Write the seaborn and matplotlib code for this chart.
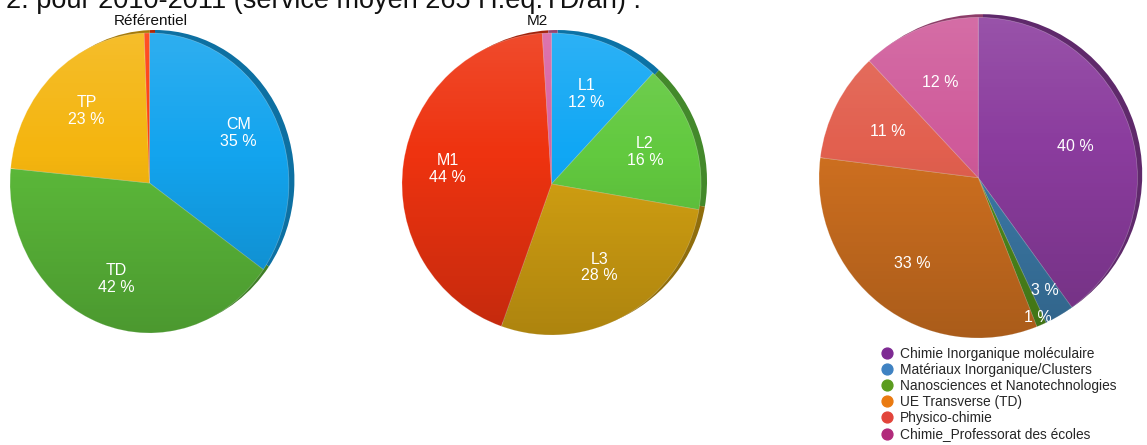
import matplotlib
matplotlib.use("Agg")
import numpy as np
import matplotlib.pyplot as plt
from matplotlib.lines import Line2D
from matplotlib.patches import Ellipse
import seaborn as sns

sns.set_theme(style="white")
plt.rcParams["font.family"] = ["Liberation Sans", "DejaVu Sans"]

# --- data -------------------------------------------------------------
title = "2. pour 2010-2011 (service moyen 265 H.eq.TD/an) :"

type_labels = ["CM", "TD", "TP", "Référentiel"]
type_values = [35, 42, 23, 0.6]
type_colors = ["#13A4EE", "#5CBA3A", "#F4B50F", "#FF3A0A"]

level_labels = ["L1", "L2", "L3", "M1", "M2"]
level_values = [12, 16, 28, 44, 1]
level_colors = ["#10A7F4", "#62C93F", "#D3A112", "#EE3310", "#D862A3"]

ue_labels = ["Chimie Inorganique moléculaire", "Matériaux Inorganique/Clusters",
             "Nanosciences et Nanotechnologies", "UE Transverse (TD)",
             "Physico-chimie", "Chimie_Professorat des écoles"]
ue_values = [40, 3, 1, 33, 11, 12]
ue_colors = ["#8B3C9E", "#3C7AA8", "#4F8C1C", "#CF7020", "#E2604F", "#CF5A9A"]
ue_legend_colors = ["#7E2A93", "#3F82C2", "#5B9C1E", "#EA7A10", "#E2443A", "#B12A7B"]

# --- figure -----------------------------------------------------------
W, H = 1147, 445
fig = plt.figure(figsize=(W / 100, H / 100), dpi=100)


def darker(c, f=0.68):
    r, g, b = matplotlib.colors.to_rgb(c)
    return (r * f, g * f, b * f)


def pie_axes(x0, x1, y0, y1):
    """Axes placed on the pixel box x0..x1, y0..y1 (top-left origin)."""
    return fig.add_axes([x0 / W, 1 - y1 / H, (x1 - x0) / W, (y1 - y0) / H])


def draw_pie(ax, values, colors, texts, dists, rim=(0.04, 0.02), label_size=11.5):
    # darker rim behind the disc, shifted up and to the right
    ax.pie(values, colors=[darker(c) for c in colors], center=rim, radius=1,
           startangle=90, counterclock=False, wedgeprops=dict(linewidth=0))
    wedges, _ = ax.pie(values, colors=colors, center=(0, 0), radius=1,
                       startangle=90, counterclock=False,
                       wedgeprops=dict(linewidth=0.5, edgecolor=(1, 1, 1, 0.3)))
    # soft shading: lighter at the top, darker at the bottom
    grad = np.linspace(0, 1, 256)[:, None]
    shade = np.zeros((256, 1, 4))
    shade[..., :3] = np.where(grad[..., None] < 0.4, 1.0, 0.0)
    shade[..., 3] = np.abs(grad - 0.4) * 0.3
    im = ax.imshow(shade, extent=(-1, 1, -1, 1), origin="upper", aspect="auto",
                   zorder=3, interpolation="bilinear")
    im.set_clip_path(Ellipse((0, 0), 2, 2, transform=ax.transData))
    for w, t, d in zip(wedges, texts, dists):
        if t is None:
            continue
        ang = np.deg2rad((w.theta1 + w.theta2) / 2)
        ax.text(d * np.cos(ang), d * np.sin(ang), t, ha="center", va="center",
                color="white", fontsize=label_size, linespacing=1.15, zorder=4)
    ax.set_xlim(-1, 1 + 2 * rim[0])
    ax.set_ylim(-1, 1 + 2 * rim[1])
    ax.set_aspect("auto")
    ax.axis("off")
    return wedges


def pct(v):
    return f"{round(v)} %"


# pie 1 : type d'enseignement
ax1 = pie_axes(10, 300, 27, 333)
draw_pie(ax1, type_values, type_colors,
         [f"{l}\n{pct(v)}" for l, v in zip(type_labels[:3], type_values[:3])] + [None],
         [0.72, 0.68, 0.66, 0])

# pie 2 : niveau
ax2 = pie_axes(402, 713, 27, 335)
draw_pie(ax2, level_values, level_colors,
         [f"{l}\n{pct(v)}" for l, v in zip(level_labels[:4], level_values[:4])] + [None],
         [0.64, 0.66, 0.64, 0.7, 0])

# pie 3 : UE
ax3 = pie_axes(819, 1147, 11, 338)
draw_pie(ax3, ue_values, ue_colors, [pct(v) for v in ue_values],
         [0.64, 0.82, 0.95, 0.68, 0.64, 0.64], rim=(0.03, 0.02))

# small slices named above their pie
fig.text(151 / W, 1 - 25 / H, type_labels[3], ha="center", va="baseline",
         fontsize=11, color="#111111")
fig.text(537 / W, 1 - 25 / H, level_labels[4], ha="center", va="baseline",
         fontsize=11, color="#111111")

# title, clipped by the top of the figure
fig.text(6 / W, 1 - 8 / H, title, ha="left", va="baseline",
         fontsize=19.5, color="#111111")

# legend
handles = [Line2D([0], [0], marker="o", linestyle="none", markersize=7.8,
                  markerfacecolor=c, markeredgecolor=c) for c in ue_legend_colors]
fig.legend(handles, ue_labels, loc="upper left",
           bbox_to_anchor=(881 / W, 1 - 347 / H),
           frameon=False, fontsize=9.9, handlelength=0.8, handletextpad=0.55,
           labelspacing=0.15, borderpad=0, borderaxespad=0)

fig.savefig("out.png", dpi=100)
